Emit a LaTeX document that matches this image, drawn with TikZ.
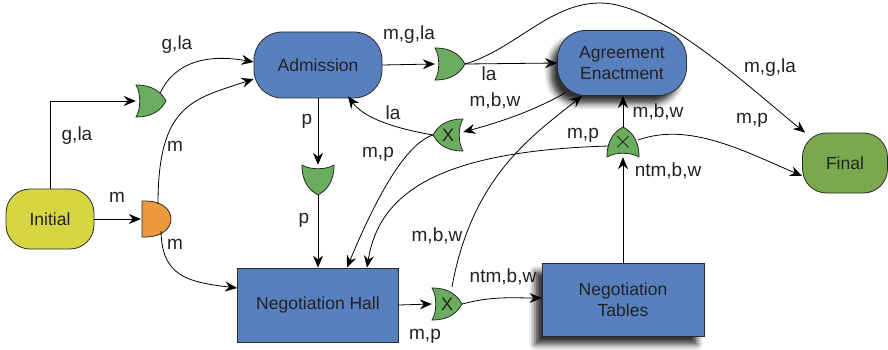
\documentclass[tikz,border=0pt]{standalone}
\usepackage{fontspec}
\setmainfont{Liberation Sans}
\usetikzlibrary{arrows.meta,shadows.blur}

\definecolor{boxblue}{HTML}{5880BE}
\definecolor{gategreen}{HTML}{6AAD5E}
\definecolor{finalgreen}{HTML}{79A94C}
\definecolor{inityellow}{HTML}{D6D643}
\definecolor{andorange}{HTML}{EC983C}
\definecolor{edgegrey}{HTML}{2A2A2A}
\definecolor{inktext}{HTML}{222222}

\newcommand\dnodefont{\fontsize{17.5}{21}\selectfont}
\newcommand\dlblfont{\fontsize{19}{22}\selectfont}
\newcommand\dgatefont{\fontsize{18}{18}\selectfont}

% OR/XOR gate: name, centre, rotation (0 = pointing right), inner text
\newcommand\orgate[4]{%
  \filldraw[gateline, fill=gategreen, shift={(#2)}, rotate=#3]
    (-15,-16) .. controls (4,-16) and (11,-7) .. (15,0)
    .. controls (11,7) and (4,16) .. (-15,16)
    .. controls (-10,8) and (-10,-8) .. cycle;
  \node[gatebox] (#1) at (#2) {#4};}

% AND gate pointing right: name, centre
\newcommand\andgate[2]{%
  \filldraw[gateline, fill=andorange, shift={(#2)}]
    (-14,-18) -- (-10,-18) .. controls (5,-18) and (15,-10) .. (15,0)
    .. controls (15,10) and (5,18) .. (-10,18) -- (-14,18) -- cycle;
  \node[gatebox] (#1) at (#2) {};}

\begin{document}
\begin{tikzpicture}[x=1pt,y=-1pt,
  arr/.style={draw=black, line width=0.8pt, -{Stealth[length=12pt,width=10pt,inset=4pt]}},
  rbox/.style={draw=edgegrey, line width=0.8pt, rounded corners=28pt,
    minimum width=128pt, minimum height=66pt, align=center, inner sep=0pt,
    font=\dnodefont, text=inktext},
  sbox/.style={draw=edgegrey, line width=0.8pt, fill=boxblue,
    minimum width=161pt, minimum height=74pt, align=center, inner sep=0pt,
    font=\dnodefont, text=inktext},
  dropshadow/.style={blur shadow={shadow xshift=-7pt, shadow yshift=-8pt,
    shadow blur radius=6pt, shadow opacity=80}},
  lbl/.style={inner sep=0pt, font=\dlblfont, text=inktext},
  gatebox/.style={minimum size=30pt, inner sep=0pt, font=\dgatefont, text=inktext},
  gateline/.style={draw=edgegrey, line width=0.8pt}]

\useasboundingbox (0,0) rectangle (888,350);

% states
\node[rbox, fill=inityellow, minimum width=88pt, minimum height=60pt, rounded corners=24pt] (init) at (50,219) {Initial};
\node[rbox, fill=boxblue] (adm) at (318,65) {Admission};
\node[rbox, fill=boxblue, minimum width=129pt, minimum height=65pt, dropshadow] (ae) at (622,63) {Agreement\\Enactment};
\node[rbox, fill=finalgreen, minimum width=85pt, minimum height=60pt, rounded corners=24pt] (fin) at (845,163) {Final};
\node[sbox] (nh) at (318,305) {Negotiation Hall};
\node[sbox, minimum width=162pt, minimum height=73pt, dropshadow] (nt) at (623,300) {Negotiation\\Tables};

% gates
\orgate{g1}{151,101}{0}{}
\andgate{ga}{156,219}
\orgate{g2}{450,64}{0}{}
\orgate{g3}{318,180}{-90}{}
\orgate{g4}{448,135}{180}{X}
\orgate{g5}{623,142}{90}{\fontsize{24}{24}\selectfont$\times$}
\orgate{g6}{447,304}{0}{X}

% connectors
\draw[arr] (init.north) |- (g1.west);
\draw[arr] ([xshift=-6pt,yshift=8pt]g1.east) .. controls +(15,-32) and +(-45,-8) .. ([yshift=3pt]adm.west);
\draw[arr] (init.east) -- (ga.west);
\draw[arr] ([xshift=2pt]ga.north) .. controls +(0,-100) and +(-60,20) .. ([yshift=-14pt]adm.west);
\draw[arr] ([xshift=5pt,yshift=3pt]ga.south) .. controls +(1,45) and +(-50,-6) .. ([yshift=17pt]nh.west);
\draw[arr] (adm.east) -- (g2.west);
\draw[arr] (g2.east) -- (ae.west);
\coordinate (peak) at (600,3);
\draw[arr] (g2.east) .. controls +(50,-15) and +(-50,0) .. (peak)
  .. controls +(60,0) and +(-50,-40) .. ([xshift=3pt]fin.north west);
\draw[arr] (adm.south) -- (g3.north);
\draw[arr] (g3.south) -- (nh.north);
\draw[arr] (g4.west) .. controls +(-45,-8) and +(15,20) .. ([xshift=30pt,yshift=2pt]adm.south);
\draw[arr] (g4.west) .. controls +(-30,10) and +(25,-60) .. ([xshift=29pt]nh.north);
\draw[arr] ([xshift=8pt,yshift=3pt]ae.south west) .. controls +(-35,20) and +(30,-8) .. ([yshift=3pt]g4.east);
\draw[arr] ([xshift=5pt,yshift=2pt]g6.north) .. controls +(20,-110) and +(-50,40) .. ([xshift=-40pt]ae.south);
\draw[arr] ([xshift=1pt,yshift=-4pt]g5.west) .. controls +(-170,5) and +(12,-75) .. ([xshift=49pt]nh.north);
\draw[arr] ([yshift=2pt]g5.east) .. controls +(50,-18) and +(-60,-26) .. ([yshift=-13pt]fin.west);
\draw[arr] (g5.north) -- (g5.north |- ae.south);
\draw[arr] (nt.north) -- (g5.south);
\draw[arr] (nh.east) -- (g6.west);
\draw[arr] (g6.east) .. controls +(30,-8) and +(-30,0) .. ([yshift=2pt]nt.west);

% connector labels
\node[lbl] (t1) at (177,45) {g,la};
\node[lbl] (t2) at (77,136) {g,la};
\node[lbl] (t3) at (117,197) {m};
\node[lbl] (t4) at (175,146) {m};
\node[lbl] (t5) at (175,244) {m};
\node[lbl] (t6) at (409,35) {m,g,la};
\node[lbl] (t7) at (489,74) {la};
\node[lbl] (t8) at (770,68) {m,g,la};
\node[lbl] (t9) at (307,121) {p};
\node[lbl] (t10) at (304,220) {p};
\node[lbl] (t11) at (393,113) {la};
\node[lbl] (t12) at (378,154) {m,p};
\node[lbl] (t13) at (495,101) {m,b,w};
\node[lbl] (t14) at (437,236) {m,b,w};
\node[lbl] (t15) at (583,135) {m,p};
\node[lbl] (t16) at (752,120) {m,p};
\node[lbl] (t17) at (658,112) {m,b,w};
\node[lbl] (t18) at (668,171) {ntm,b,w};
\node[lbl] (t19) at (425,336) {m,p};
\node[lbl] (t20) at (503,277) {ntm,b,w};
\end{tikzpicture}
\end{document}
